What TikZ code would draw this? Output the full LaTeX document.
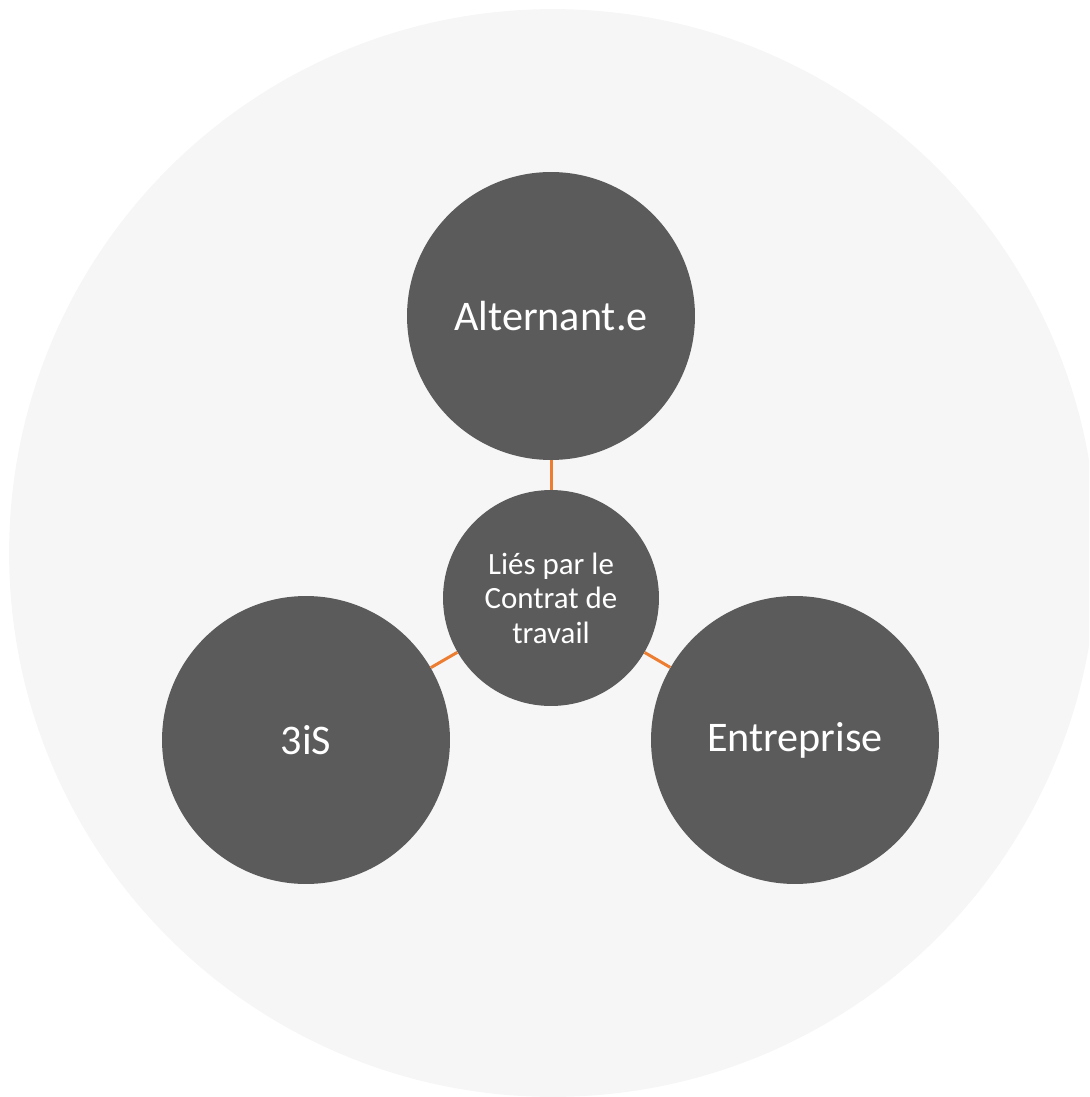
\documentclass[tikz,border=0pt]{standalone}
\usepackage{fontspec}
\setmainfont{Carlito}
\usetikzlibrary{positioning}

\definecolor{bubble}{HTML}{5B5B5B}
\definecolor{halo}{HTML}{F6F6F6}
\definecolor{link}{HTML}{ED7D31}

\tikzset{
  party/.style={circle, fill=bubble, text=white, inner sep=0pt,
    minimum size=5.76cm, font=\fontsize{24}{29}\selectfont},
  bond/.style={circle, fill=bubble, text=white, inner sep=0pt, align=center,
    minimum size=4.32cm, font=\fontsize{17.6}{19.6}\selectfont},
  tie/.style={link, line width=1.7pt}
}

\begin{document}
\begin{tikzpicture}[x=0.02cm, y=-0.02cm]

  \useasboundingbox (0,0) rectangle (1089,1097);
  \clip (0,0) rectangle (1089,1097);

  \coordinate (C) at (553,553);
  \coordinate (top) at (551,316);
  \coordinate (left) at (306,740);
  \coordinate (right) at (795,740);
  \coordinate (mid) at (551,598);

  % background disc
  \fill[halo] (C) circle (10.88cm);

  \node[party] (alt) at (top) {Alternant.e};
  \node[party] (iis) at (left) {3iS};
  \node[party] (ent) at (right) {Entreprise};
  \node[bond] (contrat) at (mid) {Liés par le\\Contrat de\\travail};

  \draw[tie] (alt) -- (contrat);
  \draw[tie] (iis) -- (contrat);
  \draw[tie] (ent) -- (contrat);

\end{tikzpicture}
\end{document}
